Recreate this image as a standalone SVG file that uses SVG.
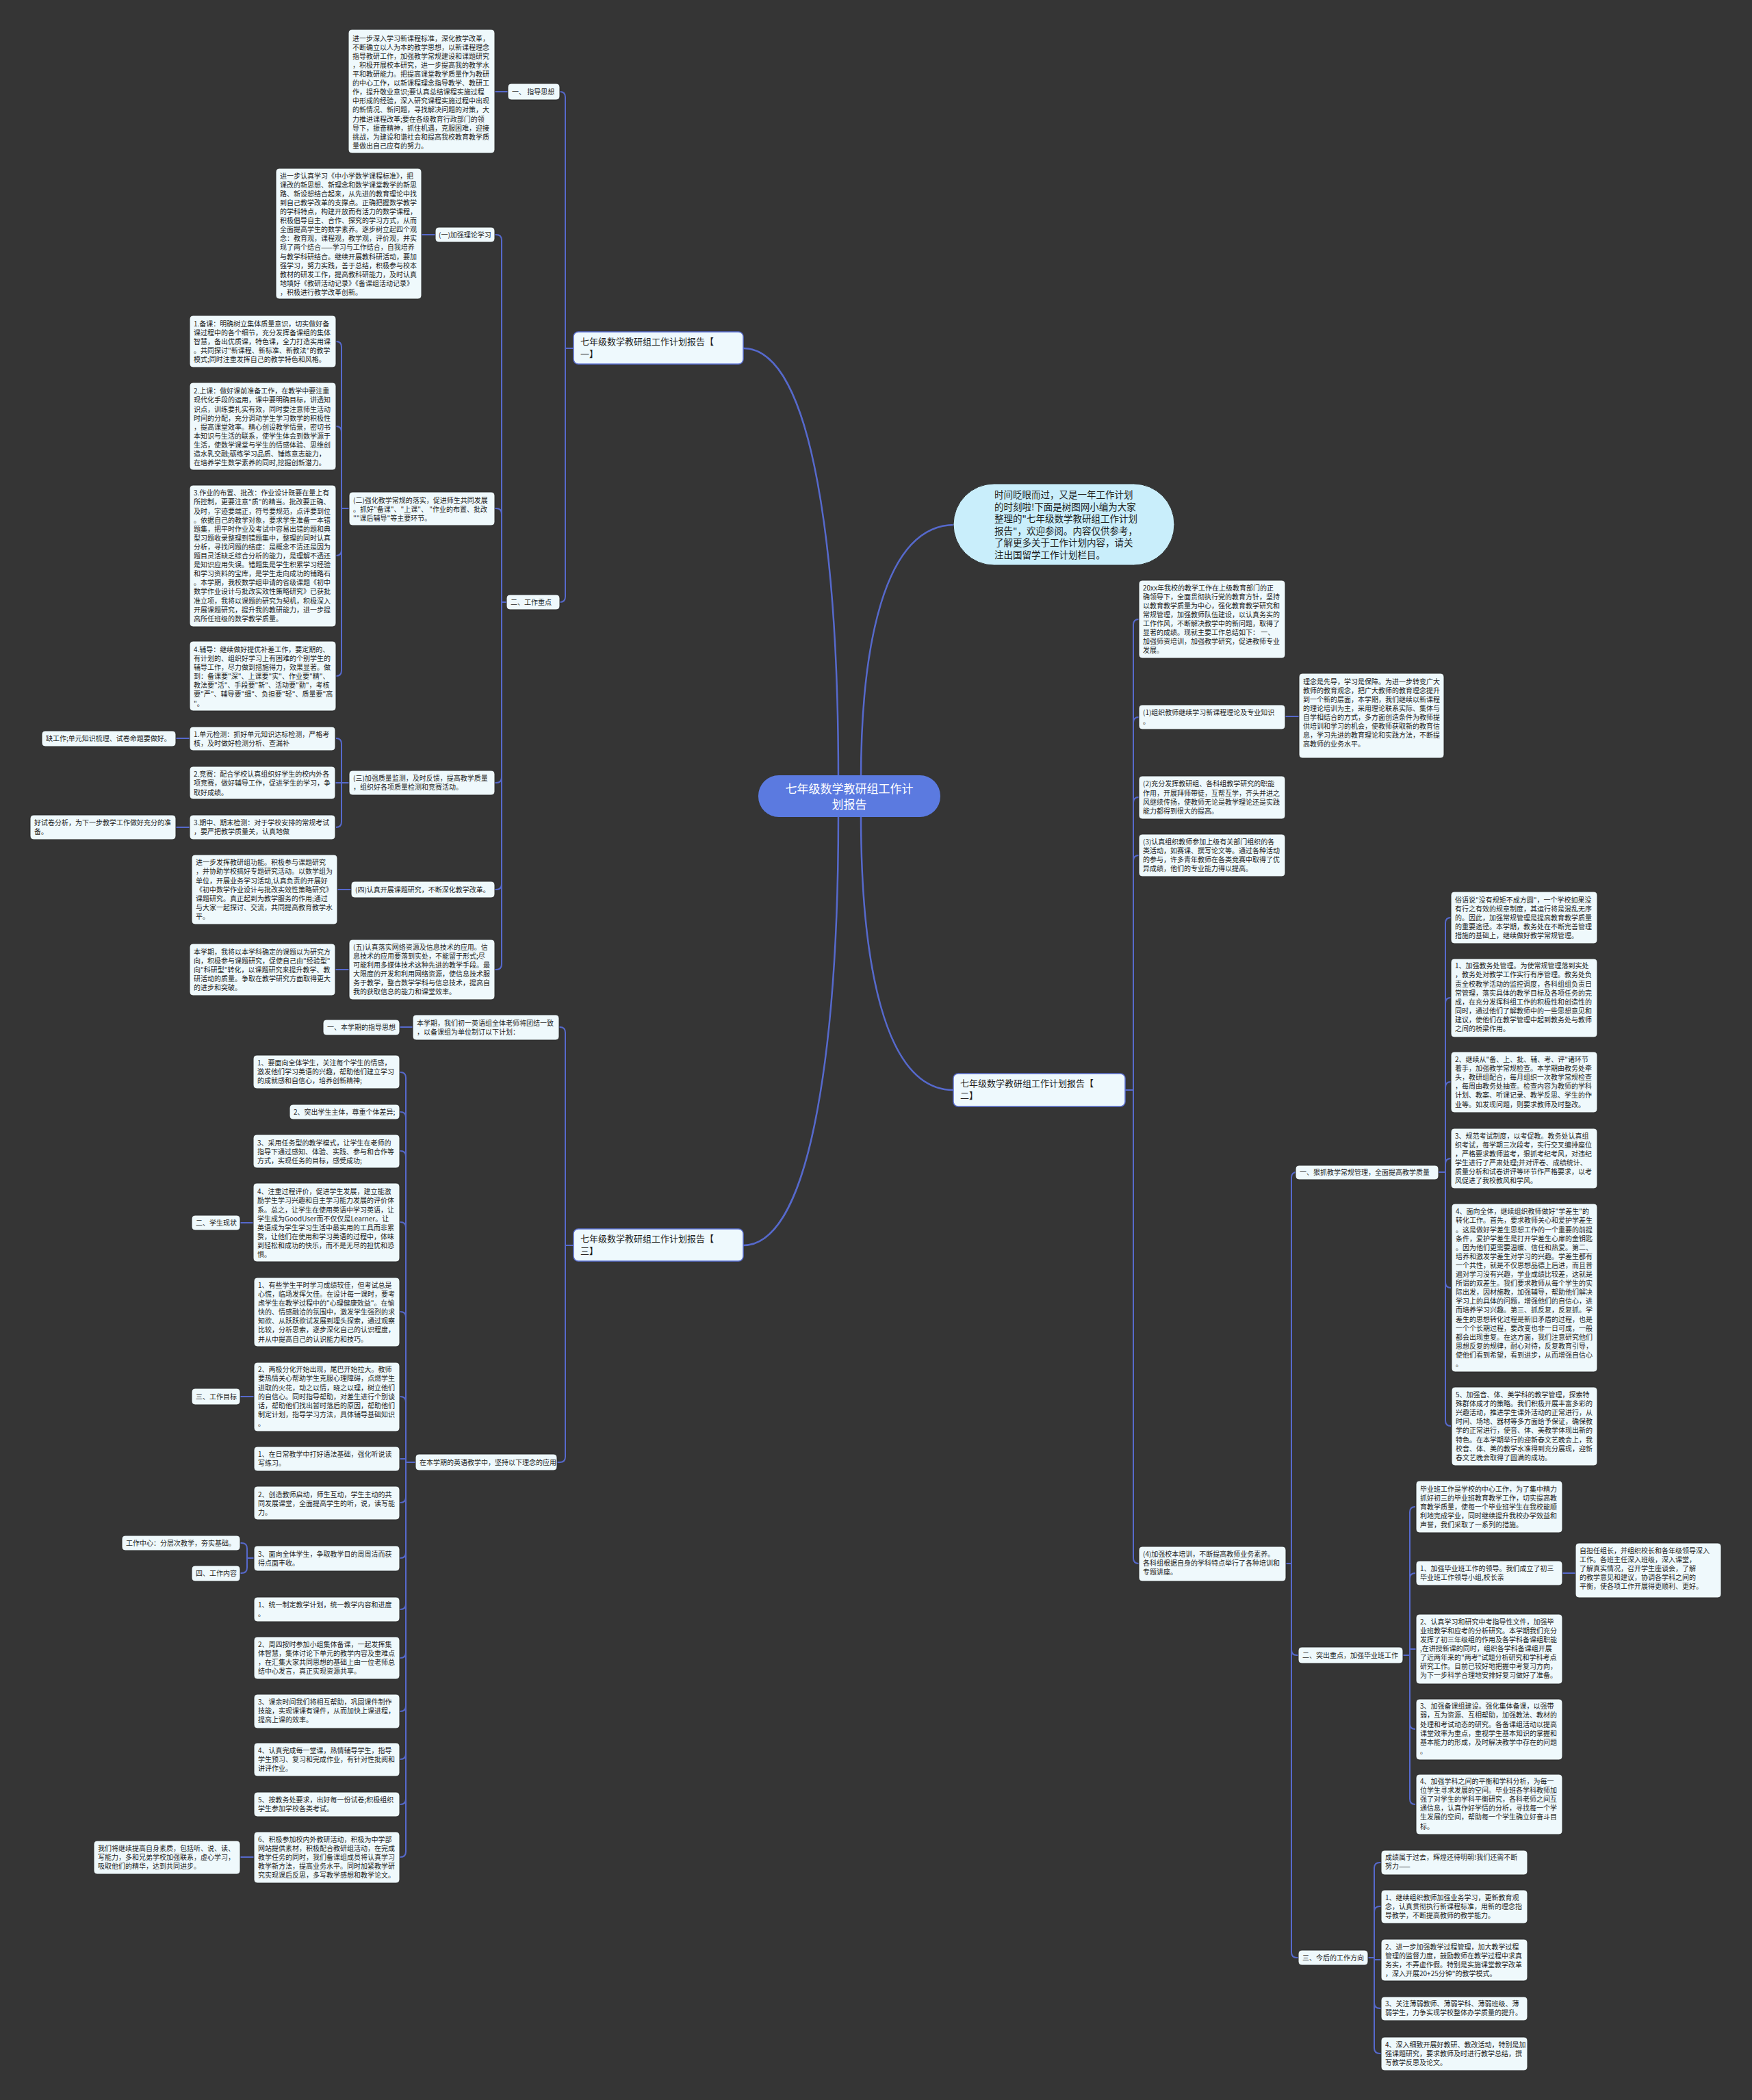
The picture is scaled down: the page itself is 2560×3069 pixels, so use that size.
<svg xmlns="http://www.w3.org/2000/svg" width="2560" height="3069" viewBox="0 0 2560 3069">
<style>
.b{fill:#eff9fc;stroke:#2a2a2a;stroke-width:1}
.br{fill:#eef9fd;stroke:#5a6fd0;stroke-width:1.5}
.t{font-family:"Noto Sans CJK SC","Noto Sans",sans-serif;font-size:10px;fill:#1e1e1e}
.tb{font-family:"Noto Sans CJK SC","Noto Sans",sans-serif;font-size:13px;fill:#1e1e1e}
.c{fill:none;stroke:#5669cc;stroke-width:2}
.cm{fill:none;stroke:#5669cc;stroke-width:2.5}
</style>
<rect x="0" y="0" width="2560" height="3069" fill="#353535"/>
<g id="connectors">
<path class="cm" d="M1086 509 C1190 509 1225 820 1225 1140"/>
<path class="cm" d="M1086 1820 C1190 1820 1225 1500 1225 1190"/>
<path class="cm" d="M1395 767 C1290 767 1258 950 1258 1140"/>
<path class="cm" d="M1393 1593 C1290 1593 1258 1400 1258 1190"/>
<path class="c" d="M838 509 H826 V142 Q826 134 818 134"/>
<path class="c" d="M838 509 H826 V872 Q826 880 818 880"/>
<path class="c" d="M742 134 H723"/>
<path class="c" d="M636 343 H616"/>
<path class="c" d="M740 880 H733 V351 Q733 343 725 343 H723"/>
<path class="c" d="M740 880 H733 V751 Q733 743 725 743 H723"/>
<path class="c" d="M740 880 H733 V1136 Q733 1144 725 1144 H723"/>
<path class="c" d="M740 880 H733 V1292 Q733 1300 725 1300 H723"/>
<path class="c" d="M740 880 H733 V1409 Q733 1417 725 1417 H723"/>
<path class="c" d="M510 743 H499 V507 Q499 499 491 499"/>
<path class="c" d="M510 743 H499 V631 Q499 623 491 623"/>
<path class="c" d="M510 743 H499 V804 Q499 812 491 812"/>
<path class="c" d="M510 743 H499 V980 Q499 988 491 988"/>
<path class="c" d="M510 1144 H499 V1087 Q499 1079 491 1079"/>
<path class="c" d="M510 1144 H490"/>
<path class="c" d="M510 1144 H499 V1201 Q499 1209 491 1209"/>
<path class="c" d="M277 1079 H257"/>
<path class="c" d="M277 1209 H257"/>
<path class="c" d="M513 1300 H493"/>
<path class="c" d="M510 1417 H490"/>
<path class="c" d="M838 1820 H826 V1509 Q826 1501 818 1501 H817"/>
<path class="c" d="M838 1820 H826 V2129 Q826 2137 818 2137 H814"/>
<path class="c" d="M603 1501 H584"/>
<path class="c" d="M607 2137 H593 V1575 Q593 1567 585 1567 H584"/>
<path class="c" d="M607 2137 H593 V1633 Q593 1625 585 1625 H584"/>
<path class="c" d="M607 2137 H593 V1690 Q593 1682 585 1682 H584"/>
<path class="c" d="M607 2137 H593 V1794 Q593 1786 585 1786 H584"/>
<path class="c" d="M607 2137 H593 V1925 Q593 1917 585 1917 H584"/>
<path class="c" d="M607 2137 H593 V2049 Q593 2041 585 2041 H584"/>
<path class="c" d="M607 2137 H593 V2132 H584"/>
<path class="c" d="M607 2137 H593 V2188 Q593 2196 585 2196 H584"/>
<path class="c" d="M607 2137 H593 V2269 Q593 2277 585 2277 H584"/>
<path class="c" d="M607 2137 H593 V2344 Q593 2352 585 2352 H584"/>
<path class="c" d="M607 2137 H593 V2415 Q593 2423 585 2423 H584"/>
<path class="c" d="M607 2137 H593 V2493 Q593 2501 585 2501 H584"/>
<path class="c" d="M607 2137 H593 V2563 Q593 2571 585 2571 H584"/>
<path class="c" d="M607 2137 H593 V2629 Q593 2637 585 2637 H584"/>
<path class="c" d="M607 2137 H593 V2706 Q593 2714 585 2714 H584"/>
<path class="c" d="M370 1787 H351"/>
<path class="c" d="M371 2041 H351"/>
<path class="c" d="M371 2277 H361 V2263 Q361 2255 353 2255 H351"/>
<path class="c" d="M371 2277 H361 V2291 Q361 2299 353 2299 H351"/>
<path class="c" d="M371 2714 H351"/>
<path class="c" d="M1644 1593 H1656 V913 Q1656 905 1664 905"/>
<path class="c" d="M1644 1593 H1656 V1056 Q1656 1048 1664 1048"/>
<path class="c" d="M1644 1593 H1656 V1173 Q1656 1165 1664 1165"/>
<path class="c" d="M1644 1593 H1656 V1258 Q1656 1250 1664 1250"/>
<path class="c" d="M1644 1593 H1656 V2277 Q1656 2285 1664 2285"/>
<path class="c" d="M1878 1047 H1898"/>
<path class="c" d="M1879 2285 H1887 V1721 Q1887 1713 1895 1713"/>
<path class="c" d="M1879 2285 H1887 V2411 Q1887 2419 1895 2419 H1897"/>
<path class="c" d="M1879 2285 H1887 V2853 Q1887 2861 1895 2861 H1897"/>
<path class="c" d="M2102 1713 H2112 V1349 Q2112 1341 2120 1341"/>
<path class="c" d="M2102 1713 H2112 V1466 Q2112 1458 2120 1458"/>
<path class="c" d="M2102 1713 H2112 V1589 Q2112 1581 2120 1581"/>
<path class="c" d="M2102 1713 H2112 V1701 Q2112 1693 2120 1693"/>
<path class="c" d="M2102 1713 H2112 V1874 Q2112 1882 2120 1882"/>
<path class="c" d="M2102 1713 H2112 V2076 Q2112 2084 2120 2084"/>
<path class="c" d="M2050 2419 H2060 V2210 Q2060 2202 2068 2202"/>
<path class="c" d="M2050 2419 H2060 V2307 Q2060 2299 2068 2299"/>
<path class="c" d="M2050 2419 H2060 V2410 H2069"/>
<path class="c" d="M2050 2419 H2060 V2519 Q2060 2527 2068 2527"/>
<path class="c" d="M2050 2419 H2060 V2629 Q2060 2637 2068 2637"/>
<path class="c" d="M2283 2299 H2302"/>
<path class="c" d="M1999 2861 H2008 V2730 Q2008 2722 2016 2722 H2018"/>
<path class="c" d="M1999 2861 H2008 V2794 Q2008 2786 2016 2786 H2018"/>
<path class="c" d="M1999 2861 H2008 V2864 H2018"/>
<path class="c" d="M1999 2861 H2008 V2927 Q2008 2935 2016 2935 H2018"/>
<path class="c" d="M1999 2861 H2008 V2993 Q2008 3001 2016 3001 H2018"/>
</g>

<g id="center"><rect x="1108" y="1133" width="266" height="61" rx="30" fill="#5b7ae0"/>
<text x="1241" y="1159" text-anchor="middle" font-family="Noto Sans CJK SC, sans-serif" font-size="17" fill="#ffffff"><tspan x="1241">七年级数学教研组工作计</tspan><tspan x="1241" dy="23">划报告</tspan></text></g>

<g id="intro"><rect x="1393" y="707" width="323" height="119" rx="59.5" fill="#c9eefb" stroke="#2a2a2a" stroke-width="1"/>
<text x="1453" y="728" font-family="Noto Sans CJK SC, sans-serif" font-size="13.5" fill="#1e1e1e"><tspan x="1453">时间眨眼而过，又是一年工作计划</tspan><tspan x="1453" dy="17.5">的时刻啦!下面是树图网小编为大家</tspan><tspan x="1453" dy="17.5">整理的"七年级数学教研组工作计划</tspan><tspan x="1453" dy="17.5">报告"，欢迎参阅。内容仅供参考，</tspan><tspan x="1453" dy="17.5">了解更多关于工作计划内容，请关</tspan><tspan x="1453" dy="17.5">注出国留学工作计划栏目。</tspan></text></g>

<g id="branch1"><rect class="br" x="838" y="485" width="248" height="47" rx="7"/><text class="tb" x="848" y="504"><tspan x="848">七年级数学教研组工作计划报告【</tspan><tspan x="848" dy="18">一】</tspan></text></g>
<g id="branch2"><rect class="br" x="1393" y="1569" width="251" height="48" rx="7"/><text class="tb" x="1403" y="1588"><tspan x="1403">七年级数学教研组工作计划报告【</tspan><tspan x="1403" dy="18">二】</tspan></text></g>
<g id="branch3"><rect class="br" x="838" y="1796" width="248" height="47" rx="7"/><text class="tb" x="848" y="1815"><tspan x="848">七年级数学教研组工作计划报告【</tspan><tspan x="848" dy="18">三】</tspan></text></g>

<g id="a1"><rect class="b" x="509" y="43" width="214" height="181" rx="5"/><text class="t" x="515" y="59.6"><tspan x="515">进一步深入学习新课程标准，深化教学改革，</tspan><tspan x="515" dy="13.1">不断确立以人为本的教学思想，以新课程理念</tspan><tspan x="515" dy="13.1">指导教研工作，加强教学常规建设和课题研究</tspan><tspan x="515" dy="13.1">，积极开展校本研究，进一步提高我的教学水</tspan><tspan x="515" dy="13.1">平和教研能力。把提高课堂教学质量作为教研</tspan><tspan x="515" dy="13.1">的中心工作，以新课程理念指导教学、教研工</tspan><tspan x="515" dy="13.1">作，提升敬业意识;要认真总结课程实施过程</tspan><tspan x="515" dy="13.1">中形成的经验，深入研究课程实施过程中出现</tspan><tspan x="515" dy="13.1">的新情况、新问题，寻找解决问题的对策，大</tspan><tspan x="515" dy="13.1">力推进课程改革;要在各级教育行政部门的领</tspan><tspan x="515" dy="13.1">导下，振奋精神，抓住机遇，克服困难，迎接</tspan><tspan x="515" dy="13.1">挑战，为建设和谐社会和提高我校教育教学质</tspan><tspan x="515" dy="13.1">量做出自己应有的努力。</tspan></text></g>
<g id="a-zd"><rect class="b" x="742" y="122" width="76" height="24" rx="5"/><text class="t" x="748" y="137.6">一、 指导思想</text></g>
<g id="a-gz"><rect class="b" x="740" y="869" width="78" height="22" rx="5"/><text class="t" x="746" y="883.6">二、工作重点</text></g>
<g id="a-y1"><rect class="b" x="636" y="332" width="87" height="22" rx="5"/><text class="t" x="641" y="346.6">(一)加强理论学习</text></g>
<g id="a2"><rect class="b" x="403" y="246" width="213" height="191" rx="5"/><text class="t" x="409" y="260.6"><tspan x="409">进一步认真学习《中小学数学课程标准》，把</tspan><tspan x="409" dy="13.1">课改的新思想、新理念和数学课堂教学的新思</tspan><tspan x="409" dy="13.1">路、新设想结合起来，从先进的教育理论中找</tspan><tspan x="409" dy="13.1">到自己教学改革的支撑点。正确把握数学教学</tspan><tspan x="409" dy="13.1">的学科特点，构建开放而有活力的数学课程，</tspan><tspan x="409" dy="13.1">积极倡导自主、合作、探究的学习方式，从而</tspan><tspan x="409" dy="13.1">全面提高学生的数学素养。逐步树立起四个观</tspan><tspan x="409" dy="13.1">念：教育观，课程观，教学观，评价观，并实</tspan><tspan x="409" dy="13.1">现了两个结合——学习与工作结合，自我培养</tspan><tspan x="409" dy="13.1">与教学科研结合。继续开展教科研活动，要加</tspan><tspan x="409" dy="13.1">强学习，努力实践，善于总结，积极参与校本</tspan><tspan x="409" dy="13.1">教材的研发工作，提高教科研能力，及时认真</tspan><tspan x="409" dy="13.1">地填好《教研活动记录》《备课组活动记录》</tspan><tspan x="409" dy="13.1">，积极进行教学改革创新。</tspan></text></g>
<g id="a-e2"><rect class="b" x="510" y="719" width="213" height="49" rx="5"/><text class="t" x="516" y="734.6"><tspan x="516">(二)强化教学常规的落实，促进师生共同发展</tspan><tspan x="516" dy="13.1">。抓好"备课"、"上课"、 "作业的布置、批改</tspan><tspan x="516" dy="13.1">""课后辅导"等主要环节。</tspan></text></g>
<g id="a-bk"><rect class="b" x="277" y="461" width="214" height="76" rx="5"/><text class="t" x="283" y="476.9"><tspan x="283">1.备课：明确树立集体质量意识，切实做好备</tspan><tspan x="283" dy="13.1">课过程中的各个细节，充分发挥备课组的集体</tspan><tspan x="283" dy="13.1">智慧，备出优质课，特色课，全力打造实用课</tspan><tspan x="283" dy="13.1">。共同探讨"新课程、新标准、新教法"的教学</tspan><tspan x="283" dy="13.1">模式;同时注重发挥自己的教学特色和风格。</tspan></text></g>
<g id="a-sk"><rect class="b" x="277" y="559" width="214" height="128" rx="5"/><text class="t" x="283" y="575.3"><tspan x="283">2.上课：做好课前准备工作，在教学中要注重</tspan><tspan x="283" dy="13.1">现代化手段的运用，课中要明确目标，讲透知</tspan><tspan x="283" dy="13.1">识点，训练要扎实有效，同时要注意师生活动</tspan><tspan x="283" dy="13.1">时间的分配，充分调动学生学习数学的积极性</tspan><tspan x="283" dy="13.1">，提高课堂效率。精心创设教学情景，密切书</tspan><tspan x="283" dy="13.1">本知识与生活的联系，使学生体会到数学源于</tspan><tspan x="283" dy="13.1">生活，使数学课堂与学生的情感体验、思维创</tspan><tspan x="283" dy="13.1">造水乳交融;砺练学习品质、锤炼意志能力，</tspan><tspan x="283" dy="13.1">在培养学生数学素养的同时,挖掘创新潜力。</tspan></text></g>
<g id="a-zy"><rect class="b" x="277" y="709" width="214" height="207" rx="5"/><text class="t" x="283" y="724.3"><tspan x="283">3.作业的布置、批改：作业设计既要在量上有</tspan><tspan x="283" dy="13.1">所控制，更要注意"质"的精当。批改要正确、</tspan><tspan x="283" dy="13.1">及时，字迹要端正，符号要规范，点评要到位</tspan><tspan x="283" dy="13.1">。依据自己的教学对象，要求学生准备一本错</tspan><tspan x="283" dy="13.1">题集，把平时作业及考试中容易出错的题和典</tspan><tspan x="283" dy="13.1">型习题收录整理到错题集中，整理的同时认真</tspan><tspan x="283" dy="13.1">分析，寻找问题的结症：是概念不清还是因为</tspan><tspan x="283" dy="13.1">题目灵活缺乏综合分析的能力，是理解不透还</tspan><tspan x="283" dy="13.1">是知识应用失误。错题集是学生积累学习经验</tspan><tspan x="283" dy="13.1">和学习资料的宝库，是学生走向成功的铺路石</tspan><tspan x="283" dy="13.1">。本学期，我校数学组申请的省级课题《初中</tspan><tspan x="283" dy="13.1">数学作业设计与批改实效性策略研究》已获批</tspan><tspan x="283" dy="13.1">准立项，我将以课题的研究为契机，积极深入</tspan><tspan x="283" dy="13.1">开展课题研究，提升我的教研能力，进一步提</tspan><tspan x="283" dy="13.1">高所任班级的数学教学质量。</tspan></text></g>
<g id="a-fd"><rect class="b" x="277" y="937" width="214" height="102" rx="5"/><text class="t" x="283" y="952.9"><tspan x="283">4.辅导：继续做好提优补差工作，要定期的、</tspan><tspan x="283" dy="13.1">有计划的、组织好学习上有困难的个别学生的</tspan><tspan x="283" dy="13.1">辅导工作，尽力做到措施得力，效果显著。做</tspan><tspan x="283" dy="13.1">到：备课要"深"、上课要"实"、作业要"精"、</tspan><tspan x="283" dy="13.1">教法要"活"、手段要"新"、活动要"勤"，考核</tspan><tspan x="283" dy="13.1">要"严"、辅导要"细"、负担要"轻"、质量要"高</tspan><tspan x="283" dy="13.1">"。</tspan></text></g>
<g id="a-s3"><rect class="b" x="510" y="1126" width="213" height="36" rx="5"/><text class="t" x="516" y="1141"><tspan x="516">(三)加强质量监测，及时反馈，提高教学质量</tspan><tspan x="516" dy="13.1">，组织好各项质量检测和竞赛活动。</tspan></text></g>
<g id="a-dy"><rect class="b" x="277" y="1062" width="213" height="35" rx="5"/><text class="t" x="283" y="1076.9"><tspan x="283">1.单元检测：抓好单元知识达标检测，严格考</tspan><tspan x="283" dy="13.1">核，及时做好检测分析、查漏补</tspan></text></g>
<g id="a-qg"><rect class="b" x="61" y="1068" width="196" height="23" rx="5"/><text class="t" x="67" y="1082.6">缺工作;单元知识梳理、试卷命题要做好。</text></g>
<g id="a-js"><rect class="b" x="277" y="1120" width="213" height="48" rx="5"/><text class="t" x="283" y="1135.3"><tspan x="283">2.竞赛：配合学校认真组织好学生的校内外各</tspan><tspan x="283" dy="13.1">项竞赛，做好辅导工作，促进学生的学习，争</tspan><tspan x="283" dy="13.1">取好成绩。</tspan></text></g>
<g id="a-qz"><rect class="b" x="277" y="1191" width="213" height="36" rx="5"/><text class="t" x="283" y="1206.3"><tspan x="283">3.期中、期末检测：对于学校安排的常规考试</tspan><tspan x="283" dy="13.1">，要严把教学质量关，认真地做</tspan></text></g>
<g id="a-hsj"><rect class="b" x="44" y="1191" width="213" height="36" rx="5"/><text class="t" x="50" y="1206.3"><tspan x="50">好试卷分析，为下一步教学工作做好充分的准</tspan><tspan x="50" dy="13.1">备。</tspan></text></g>
<g id="a-s4"><rect class="b" x="513" y="1288" width="210" height="24" rx="5"/><text class="t" x="519" y="1303.6">(四)认真开展课题研究，不断深化教学改革。</text></g>
<g id="a-jyb"><rect class="b" x="280" y="1249" width="213" height="102" rx="5"/><text class="t" x="286" y="1264.3"><tspan x="286">进一步发挥教研组功能。积极参与课题研究</tspan><tspan x="286" dy="13.1">，并协助学校搞好专题研究活动。以数学组为</tspan><tspan x="286" dy="13.1">单位，开展业务学习活动,认真负责的开展好</tspan><tspan x="286" dy="13.1">《初中数学作业设计与批改实效性策略研究》</tspan><tspan x="286" dy="13.1">课题研究。真正起到为教学服务的作用;通过</tspan><tspan x="286" dy="13.1">与大家一起探讨、交流，共同提高教育教学水</tspan><tspan x="286" dy="13.1">平。</tspan></text></g>
<g id="a-s5"><rect class="b" x="510" y="1373" width="213" height="88" rx="5"/><text class="t" x="516" y="1387.6"><tspan x="516">(五)认真落实网络资源及信息技术的应用。信</tspan><tspan x="516" dy="13.1">息技术的应用要落到实处，不能留于形式;尽</tspan><tspan x="516" dy="13.1">可能利用多媒体技术这种先进的教学手段。最</tspan><tspan x="516" dy="13.1">大限度的开发和利用网络资源，使信息技术服</tspan><tspan x="516" dy="13.1">务于教学，整合数学学科与信息技术，提高自</tspan><tspan x="516" dy="13.1">我的获取信息的能力和课堂效率。</tspan></text></g>
<g id="a-bxq"><rect class="b" x="277" y="1379" width="213" height="76" rx="5"/><text class="t" x="283" y="1394.6"><tspan x="283">本学期，我将以本学科确定的课题以为研究方</tspan><tspan x="283" dy="13.1">向，积极参与课题研究，促使自己由"经验型"</tspan><tspan x="283" dy="13.1">向"科研型"转化，以课题研究来提升教学、教</tspan><tspan x="283" dy="13.1">研活动的质量。争取在教学研究方面取得更大</tspan><tspan x="283" dy="13.1">的进步和突破。</tspan></text></g>

<g id="c-bxq"><rect class="b" x="603" y="1483" width="214" height="37" rx="5"/><text class="t" x="609" y="1498.6"><tspan x="609">本学期，我们初一英语组全体老师将团结一致</tspan><tspan x="609" dy="13.1">，以备课组为单位制订以下计划：</tspan></text></g>
<g id="c-zd"><rect class="b" x="472" y="1490" width="112" height="23" rx="5"/><text class="t" x="478" y="1505">一、本学期的指导思想</text></g>
<g id="c-lab"><rect class="b" x="607" y="2125" width="207" height="24" rx="5"/><text class="t" x="613" y="2140.6">在本学期的英语教学中，坚持以下理念的应用</text></g>
<g id="c-1"><rect class="b" x="370" y="1542" width="214" height="49" rx="5"/><text class="t" x="376" y="1556.9"><tspan x="376">1、要面向全体学生，关注每个学生的情感，</tspan><tspan x="376" dy="13.1">激发他们学习英语的兴趣，帮助他们建立学习</tspan><tspan x="376" dy="13.1">的成就感和自信心，培养创新精神;</tspan></text></g>
<g id="c-2"><rect class="b" x="423" y="1614" width="161" height="22" rx="5"/><text class="t" x="429" y="1628.6">2、突出学生主体，尊重个体差异;</text></g>
<g id="c-3"><rect class="b" x="370" y="1658" width="214" height="49" rx="5"/><text class="t" x="376" y="1673.6"><tspan x="376">3、采用任务型的教学模式，让学生在老师的</tspan><tspan x="376" dy="13.1">指导下通过感知、体验、实践、参与和合作等</tspan><tspan x="376" dy="13.1">方式，实现任务的目标，感受成功;</tspan></text></g>
<g id="c-4"><rect class="b" x="370" y="1729" width="214" height="115" rx="5"/><text class="t" x="376" y="1745.3"><tspan x="376">4、注重过程评价，促进学生发展，建立能激</tspan><tspan x="376" dy="13.1">励学生学习兴趣和自主学习能力发展的评价体</tspan><tspan x="376" dy="13.1">系。总之，让学生在使用英语中学习英语，让</tspan><tspan x="376" dy="13.1">学生成为GoodUser而不仅仅是Learner。让</tspan><tspan x="376" dy="13.1">英语成为学生学习生活中最实用的工具而非累</tspan><tspan x="376" dy="13.1">赘，让他们在使用和学习英语的过程中，体味</tspan><tspan x="376" dy="13.1">到轻松和成功的快乐，而不是无尽的担忧和恐</tspan><tspan x="376" dy="13.1">惧。</tspan></text></g>
<g id="c-xz"><rect class="b" x="280" y="1776" width="71" height="22" rx="5"/><text class="t" x="286" y="1790.6">二、学生现状</text></g>
<g id="c-5"><rect class="b" x="371" y="1867" width="213" height="101" rx="5"/><text class="t" x="377" y="1881.9"><tspan x="377">1、有些学生平时学习成绩较佳，但考试总是</tspan><tspan x="377" dy="13.1">心慌，临场发挥欠佳。在设计每一课时，要考</tspan><tspan x="377" dy="13.1">虑学生在教学过程中的"心理健康效益"。在愉</tspan><tspan x="377" dy="13.1">快的、情感融洽的氛围中，激发学生强烈的求</tspan><tspan x="377" dy="13.1">知欲、从跃跃欲试发展到埋头探索，通过观察</tspan><tspan x="377" dy="13.1">比较，分析思索，逐步深化自己的认识程度，</tspan><tspan x="377" dy="13.1">并从中提高自己的认识能力和技巧。</tspan></text></g>
<g id="c-6"><rect class="b" x="371" y="1991" width="213" height="101" rx="5"/><text class="t" x="377" y="2005.3"><tspan x="377">2、两极分化开始出现，尾巴开始拉大。教师</tspan><tspan x="377" dy="13.1">要热情关心帮助学生克服心理障碍，点燃学生</tspan><tspan x="377" dy="13.1">进取的火花，动之以情，晓之以理，树立他们</tspan><tspan x="377" dy="13.1">的自信心。同时指导帮助，对差生进行个别谈</tspan><tspan x="377" dy="13.1">话，帮助他们找出暂时落后的原因，帮助他们</tspan><tspan x="377" dy="13.1">制定计划，指导学习方法，具体辅导基础知识</tspan><tspan x="377" dy="13.1">。</tspan></text></g>
<g id="c-mb"><rect class="b" x="280" y="2029" width="71" height="24" rx="5"/><text class="t" x="286" y="2044.6">三、工作目标</text></g>
<g id="c-7"><rect class="b" x="371" y="2114" width="213" height="36" rx="5"/><text class="t" x="377" y="2129.3"><tspan x="377">1、在日常教学中打好语法基础，强化听说读</tspan><tspan x="377" dy="13.1">写练习。</tspan></text></g>
<g id="c-8"><rect class="b" x="371" y="2172" width="213" height="49" rx="5"/><text class="t" x="377" y="2187.6"><tspan x="377">2、创造教师启动，师生互动，学生主动的共</tspan><tspan x="377" dy="13.1">同发展课堂，全面提高学生的听，说，读写能</tspan><tspan x="377" dy="13.1">力。</tspan></text></g>
<g id="c-9"><rect class="b" x="371" y="2259" width="213" height="37" rx="5"/><text class="t" x="377" y="2275"><tspan x="377">3、面向全体学生，争取教学目的周周清而获</tspan><tspan x="377" dy="13.1">得点面丰收。</tspan></text></g>
<g id="c-zx"><rect class="b" x="178" y="2244" width="173" height="22" rx="5"/><text class="t" x="184" y="2258.6">工作中心：分层次教学，夯实基础。</text></g>
<g id="c-nr"><rect class="b" x="280" y="2288" width="71" height="23" rx="5"/><text class="t" x="286" y="2303.2">四、工作内容</text></g>
<g id="c-10"><rect class="b" x="371" y="2334" width="213" height="36" rx="5"/><text class="t" x="377" y="2349"><tspan x="377">1、统一制定教学计划，统一教学内容和进度</tspan><tspan x="377" dy="13.1">。</tspan></text></g>
<g id="c-11"><rect class="b" x="371" y="2392" width="213" height="62" rx="5"/><text class="t" x="377" y="2407"><tspan x="377">2、周四按时参加小组集体备课，一起发挥集</tspan><tspan x="377" dy="13.1">体智慧，集体讨论下单元的教学内容及重难点</tspan><tspan x="377" dy="13.1">，在汇集大家共同思想的基础上由一位老师总</tspan><tspan x="377" dy="13.1">结中心发言，真正实现资源共享。</tspan></text></g>
<g id="c-12"><rect class="b" x="371" y="2476" width="213" height="50" rx="5"/><text class="t" x="377" y="2491"><tspan x="377">3、课余时间我们将相互帮助，巩固课件制作</tspan><tspan x="377" dy="13.1">技能，实现课课有课件，从而加快上课进程，</tspan><tspan x="377" dy="13.1">提高上课的效率。</tspan></text></g>
<g id="c-13"><rect class="b" x="371" y="2547" width="213" height="49" rx="5"/><text class="t" x="377" y="2562"><tspan x="377">4、认真完成每一堂课，热情辅导学生，指导</tspan><tspan x="377" dy="13.1">学生预习、复习和完成作业，有针对性批阅和</tspan><tspan x="377" dy="13.1">讲评作业。</tspan></text></g>
<g id="c-14"><rect class="b" x="371" y="2619" width="213" height="36" rx="5"/><text class="t" x="377" y="2634"><tspan x="377">5、按教务处要求，出好每一份试卷;积极组织</tspan><tspan x="377" dy="13.1">学生参加学校各类考试。</tspan></text></g>
<g id="c-15"><rect class="b" x="371" y="2677" width="213" height="75" rx="5"/><text class="t" x="377" y="2692"><tspan x="377">6、积极参加校内外教研活动，积极为中学部</tspan><tspan x="377" dy="13.1">网站提供素材，积极配合教研组活动，在完成</tspan><tspan x="377" dy="13.1">教学任务的同时，我们备课组成员将认真学习</tspan><tspan x="377" dy="13.1">教学新方法，提高业务水平。同时加紧教学研</tspan><tspan x="377" dy="13.1">究实现课后反思，多写教学感想和教学论文。</tspan></text></g>
<g id="c-16"><rect class="b" x="137" y="2690" width="214" height="49" rx="5"/><text class="t" x="143" y="2705"><tspan x="143">我们将继续提高自身素质，包括听、说、读、</tspan><tspan x="143" dy="13.1">写能力，多和兄弟学校加强联系，虚心学习，</tspan><tspan x="143" dy="13.1">吸取他们的精华，达到共同进步。</tspan></text></g>

<g id="b-20xx"><rect class="b" x="1664" y="848" width="214" height="114" rx="5"/><text class="t" x="1670" y="862.6"><tspan x="1670">20xx年我校的教学工作在上级教育部门的正</tspan><tspan x="1670" dy="13.1">确领导下，全面贯彻执行党的教育方针，坚持</tspan><tspan x="1670" dy="13.1">以教育教学质量为中心，强化教育教学研究和</tspan><tspan x="1670" dy="13.1">常规管理，加强教师队伍建设，以认真务实的</tspan><tspan x="1670" dy="13.1">工作作风，不断解决教学中的新问题，取得了</tspan><tspan x="1670" dy="13.1">显著的成绩。现就主要工作总结如下： 一、</tspan><tspan x="1670" dy="13.1">加强师资培训，加强教学研究，促进教师专业</tspan><tspan x="1670" dy="13.1">发展。</tspan></text></g>
<g id="b-1"><rect class="b" x="1664" y="1030" width="214" height="36" rx="5"/><text class="t" x="1670" y="1045"><tspan x="1670">(1)组织教师继续学习新课程理论及专业知识</tspan><tspan x="1670" dy="13.1">。</tspan></text></g>
<g id="b-ln"><rect class="b" x="1898" y="984" width="212" height="124" rx="5"/><text class="t" x="1904" y="999.6"><tspan x="1904">理念是先导，学习是保障。为进一步转变广大</tspan><tspan x="1904" dy="13.1">教师的教育观念，把广大教师的教育理念提升</tspan><tspan x="1904" dy="13.1">到一个新的层面，本学期，我们继续以新课程</tspan><tspan x="1904" dy="13.1">的理论培训为主，采用理论联系实际、集体与</tspan><tspan x="1904" dy="13.1">自学相结合的方式，多方面创造条件为教师提</tspan><tspan x="1904" dy="13.1">供培训和学习的机会，使教师获取新的教育信</tspan><tspan x="1904" dy="13.1">息，学习先进的教育理论和实践方法，不断提</tspan><tspan x="1904" dy="13.1">高教师的业务水平。</tspan></text></g>
<g id="b-2"><rect class="b" x="1664" y="1134" width="214" height="63" rx="5"/><text class="t" x="1670" y="1149.4"><tspan x="1670">(2)充分发挥教研组、各科组教学研究的职能</tspan><tspan x="1670" dy="13.1">作用，开展拜师带徒，互帮互学，齐头并进之</tspan><tspan x="1670" dy="13.1">风继续传扬，使教师无论是教学理论还是实践</tspan><tspan x="1670" dy="13.1">能力都得到很大的提高。</tspan></text></g>
<g id="b-3"><rect class="b" x="1664" y="1219" width="214" height="62" rx="5"/><text class="t" x="1670" y="1234"><tspan x="1670">(3)认真组织教师参加上级有关部门组织的各</tspan><tspan x="1670" dy="13.1">类活动，如赛课、撰写论文等。通过各种活动</tspan><tspan x="1670" dy="13.1">的参与，许多青年教师在各类竞赛中取得了优</tspan><tspan x="1670" dy="13.1">异成绩，他们的专业能力得以提高。</tspan></text></g>
<g id="b-4"><rect class="b" x="1664" y="2260" width="215" height="51" rx="5"/><text class="t" x="1670" y="2275"><tspan x="1670">(4)加强校本培训，不断提高教师业务素养。</tspan><tspan x="1670" dy="13.1">各科组根据自身的学科特点举行了各种培训和</tspan><tspan x="1670" dy="13.1">专题讲座。</tspan></text></g>
<g id="b-k1"><rect class="b" x="1893" y="1703" width="209" height="21" rx="5"/><text class="t" x="1899" y="1717">一、狠抓教学常规管理，全面提高教学质量</text></g>
<g id="b-sy"><rect class="b" x="2120" y="1303" width="214" height="76" rx="5"/><text class="t" x="2126" y="1318.6"><tspan x="2126">俗语说"没有规矩不成方圆"，一个学校如果没</tspan><tspan x="2126" dy="13.1">有行之有效的规章制度，其运行将是混乱无序</tspan><tspan x="2126" dy="13.1">的。因此，加强常规管理是提高教育教学质量</tspan><tspan x="2126" dy="13.1">的重要途径。本学期，教务处在不断完善管理</tspan><tspan x="2126" dy="13.1">措施的基础上，继续做好教学常规管理。</tspan></text></g>
<g id="b-k1-1"><rect class="b" x="2120" y="1401" width="214" height="115" rx="5"/><text class="t" x="2126" y="1415.3"><tspan x="2126">1、加强教务处管理。为使常规管理落到实处</tspan><tspan x="2126" dy="13.1">，教务处对教学工作实行有序管理。教务处负</tspan><tspan x="2126" dy="13.1">责全校教学活动的监控调度，各科组组负责日</tspan><tspan x="2126" dy="13.1">常管理，落实具体的教学目标及各项任务的完</tspan><tspan x="2126" dy="13.1">成，在充分发挥科组工作的积极性和创造性的</tspan><tspan x="2126" dy="13.1">同时，通过他们了解教师中的一些思想意见和</tspan><tspan x="2126" dy="13.1">建议，使他们在教学管理中起到教务处与教师</tspan><tspan x="2126" dy="13.1">之间的桥梁作用。</tspan></text></g>
<g id="b-k1-2"><rect class="b" x="2120" y="1537" width="214" height="89" rx="5"/><text class="t" x="2126" y="1552"><tspan x="2126">2、继续从"备、上、批、辅、考、评"诸环节</tspan><tspan x="2126" dy="13.1">着手，加强教学常规检查。本学期由教务处牵</tspan><tspan x="2126" dy="13.1">头，教研组配合，每月组织一次教学常规检查</tspan><tspan x="2126" dy="13.1">，每周由教务处抽查。检查内容为教师的学科</tspan><tspan x="2126" dy="13.1">计划、教案、听课记录、教学反思、学生的作</tspan><tspan x="2126" dy="13.1">业等。如发现问题，则要求教师及时整改。</tspan></text></g>
<g id="b-k1-3"><rect class="b" x="2120" y="1649" width="214" height="88" rx="5"/><text class="t" x="2126" y="1663.6"><tspan x="2126">3、规范考试制度，以考促教。教务处认真组</tspan><tspan x="2126" dy="13.1">织考试，每学期三次段考，实行交叉编排座位</tspan><tspan x="2126" dy="13.1">，严格要求教师监考，狠抓考纪考风，对违纪</tspan><tspan x="2126" dy="13.1">学生进行了严肃处理;并对评卷、成绩统计、</tspan><tspan x="2126" dy="13.1">质量分析和试卷讲评等环节作严格要求，以考</tspan><tspan x="2126" dy="13.1">风促进了我校教风和学风。</tspan></text></g>
<g id="b-k1-4"><rect class="b" x="2121" y="1759" width="213" height="246" rx="5"/><text class="t" x="2127" y="1774.3"><tspan x="2127">4、面向全体，继续组织教师做好"学差生"的</tspan><tspan x="2127" dy="13.1">转化工作。首先，要求教师关心和爱护学差生</tspan><tspan x="2127" dy="13.1">。这是做好学差生思想工作的一个重要的前提</tspan><tspan x="2127" dy="13.1">条件，爱护学差生是打开学差生心扉的金钥匙</tspan><tspan x="2127" dy="13.1">。因为他们更需要温暖、信任和热爱。第二、</tspan><tspan x="2127" dy="13.1">培养和激发学差生对学习的兴趣。学差生都有</tspan><tspan x="2127" dy="13.1">一个共性，就是不仅思想品德上后进，而且普</tspan><tspan x="2127" dy="13.1">遍对学习没有兴趣，学业成绩比较差，这就是</tspan><tspan x="2127" dy="13.1">所谓的双差生。我们要求教师从每个学生的实</tspan><tspan x="2127" dy="13.1">际出发，因材施教，加强辅导，帮助他们解决</tspan><tspan x="2127" dy="13.1">学习上的具体的问题，增强他们的自信心，进</tspan><tspan x="2127" dy="13.1">而培养学习兴趣。第三、抓反复，反复抓。学</tspan><tspan x="2127" dy="13.1">差生的思想转化过程是新旧矛盾的过程，也是</tspan><tspan x="2127" dy="13.1">一个个长期过程，要改变也非一日可成，一般</tspan><tspan x="2127" dy="13.1">都会出现重复。在这方面，我们注意研究他们</tspan><tspan x="2127" dy="13.1">思想反复的规律，耐心对待，反复教育引导，</tspan><tspan x="2127" dy="13.1">使他们看到希望，看到进步，从而增强自信心</tspan><tspan x="2127" dy="13.1">。</tspan></text></g>
<g id="b-k1-5"><rect class="b" x="2121" y="2027" width="213" height="115" rx="5"/><text class="t" x="2127" y="2042"><tspan x="2127">5、加强音、体、美学科的教学管理，探索特</tspan><tspan x="2127" dy="13.1">殊群体成才的策略。我们积极开展丰富多彩的</tspan><tspan x="2127" dy="13.1">兴趣活动，推进学生课外活动的正常进行，从</tspan><tspan x="2127" dy="13.1">时间、场地、器材等多方面给予保证，确保教</tspan><tspan x="2127" dy="13.1">学的正常进行，使音、体、美教学体现出新的</tspan><tspan x="2127" dy="13.1">特色。在本学期举行的迎新春文艺晚会上，我</tspan><tspan x="2127" dy="13.1">校音、体、美的教学水准得到充分展现，迎新</tspan><tspan x="2127" dy="13.1">春文艺晚会取得了圆满的成功。</tspan></text></g>
<g id="b-k2"><rect class="b" x="1897" y="2407" width="153" height="24" rx="5"/><text class="t" x="1903" y="2422.6">二、突出重点，加强毕业班工作</text></g>
<g id="b-k2-0"><rect class="b" x="2069" y="2164" width="214" height="76" rx="5"/><text class="t" x="2075" y="2179.6"><tspan x="2075">毕业班工作是学校的中心工作，为了集中精力</tspan><tspan x="2075" dy="13.1">抓好初三的毕业班教育教学工作，切实提高教</tspan><tspan x="2075" dy="13.1">育教学质量，使每一个毕业班学生在我校能顺</tspan><tspan x="2075" dy="13.1">利地完成学业，同时继续提升我校办学效益和</tspan><tspan x="2075" dy="13.1">声誉，我们采取了一系列的措施。</tspan></text></g>
<g id="b-k2-1"><rect class="b" x="2069" y="2281" width="214" height="36" rx="5"/><text class="t" x="2075" y="2295.8"><tspan x="2075">1、加强毕业班工作的领导。我们成立了初三</tspan><tspan x="2075" dy="13.1">毕业班工作领导小组,校长亲</tspan></text></g>
<g id="b-k2-1r"><rect class="b" x="2302" y="2255" width="213" height="80" rx="5"/><text class="t" x="2308" y="2270"><tspan x="2308">自担任组长，并组织校长和各年级领导深入</tspan><tspan x="2308" dy="13.1">工作。各班主任深入班级，深入课堂，</tspan><tspan x="2308" dy="13.1">了解真实情况，召开学生座谈会，了解</tspan><tspan x="2308" dy="13.1">的教学意见和建议，协调各学科之间的</tspan><tspan x="2308" dy="13.1">平衡，使各项工作开展得更顺利、更好。</tspan></text></g>
<g id="b-k2-2"><rect class="b" x="2069" y="2359" width="214" height="102" rx="5"/><text class="t" x="2075" y="2373.6"><tspan x="2075">2、认真学习和研究中考指导性文件，加强毕</tspan><tspan x="2075" dy="13.1">业班教学和应考的分析研究。本学期我们充分</tspan><tspan x="2075" dy="13.1">发挥了初三年级组的作用及各学科备课组职能</tspan><tspan x="2075" dy="13.1">,在讲授新课的同时，组织各学科备课组开展</tspan><tspan x="2075" dy="13.1">了近两年来的"两考"试题分析研究和学科考点</tspan><tspan x="2075" dy="13.1">研究工作。目前已较好地把握中考复习方向，</tspan><tspan x="2075" dy="13.1">为下一步科学合理地安排好复习做好了准备。</tspan></text></g>
<g id="b-k2-3"><rect class="b" x="2069" y="2483" width="214" height="89" rx="5"/><text class="t" x="2075" y="2497.3"><tspan x="2075">3、加强备课组建设。强化集体备课，以强带</tspan><tspan x="2075" dy="13.1">弱，互为资源、互相帮助，加强教法、教材的</tspan><tspan x="2075" dy="13.1">处理和考试动态的研究。各备课组活动以提高</tspan><tspan x="2075" dy="13.1">课堂效率为重点，重视学生基本知识的掌握和</tspan><tspan x="2075" dy="13.1">基本能力的形成，及时解决教学中存在的问题</tspan><tspan x="2075" dy="13.1">。</tspan></text></g>
<g id="b-k2-4"><rect class="b" x="2069" y="2593" width="214" height="88" rx="5"/><text class="t" x="2075" y="2607"><tspan x="2075">4、加强学科之间的平衡和学科分析，为每一</tspan><tspan x="2075" dy="13.1">位学生寻求发展的空间。毕业班各学科教师加</tspan><tspan x="2075" dy="13.1">强了对学生的学科平衡研究，各科老师之间互</tspan><tspan x="2075" dy="13.1">通信息，认真作好学情的分析，寻找每一个学</tspan><tspan x="2075" dy="13.1">生发展的空间，帮助每一个学生确立好奋斗目</tspan><tspan x="2075" dy="13.1">标。</tspan></text></g>
<g id="b-k3"><rect class="b" x="1897" y="2850" width="102" height="22" rx="5"/><text class="t" x="1903" y="2864.6">三、今后的工作方向</text></g>
<g id="b-k3-0"><rect class="b" x="2018" y="2704" width="214" height="36" rx="5"/><text class="t" x="2024" y="2718"><tspan x="2024">成绩属于过去，辉煌还待明朝!我们还需不断</tspan><tspan x="2024" dy="13.1">努力——</tspan></text></g>
<g id="b-k3-1"><rect class="b" x="2018" y="2762" width="214" height="49" rx="5"/><text class="t" x="2024" y="2776.6"><tspan x="2024">1、继续组织教师加强业务学习，更新教育观</tspan><tspan x="2024" dy="13.1">念，认真贯彻执行新课程标准，用新的理念指</tspan><tspan x="2024" dy="13.1">导教学，不断提高教师的教学能力。</tspan></text></g>
<g id="b-k3-2"><rect class="b" x="2018" y="2834" width="214" height="61" rx="5"/><text class="t" x="2024" y="2848.6"><tspan x="2024">2、进一步加强教学过程管理，加大教学过程</tspan><tspan x="2024" dy="13.1">管理的监督力度，鼓励教师在教学过程中求真</tspan><tspan x="2024" dy="13.1">务实，不弄虚作假。特别是实施课堂教学改革</tspan><tspan x="2024" dy="13.1">，深入开展20+25分钟"的教学模式。</tspan></text></g>
<g id="b-k3-3"><rect class="b" x="2018" y="2918" width="214" height="35" rx="5"/><text class="t" x="2024" y="2932"><tspan x="2024">3、关注薄弱教师、薄弱学科、薄弱班级、薄</tspan><tspan x="2024" dy="13.1">弱学生，力争实现学校整体办学质量的提升。</tspan></text></g>
<g id="b-k3-4"><rect class="b" x="2018" y="2977" width="214" height="49" rx="5"/><text class="t" x="2024" y="2991.6"><tspan x="2024">4、深入细致开展好教研、教改活动，特别是加</tspan><tspan x="2024" dy="13.1">强课题研究，要求教师及时进行教学总结，撰</tspan><tspan x="2024" dy="13.1">写教学反思及论文。</tspan></text></g>
</svg>
